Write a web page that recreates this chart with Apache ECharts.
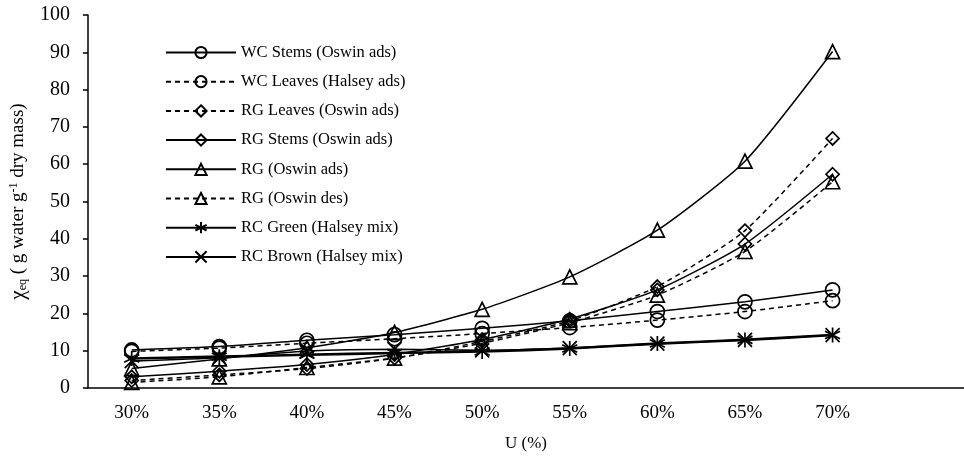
<!DOCTYPE html>
<html>
<head>
<meta charset="utf-8">
<script src="https://cdn.jsdelivr.net/npm/echarts@6/dist/echarts.min.js"></script>
<style>
  html, body { margin: 0; padding: 0; background: #fff; }
  #chart { width: 964px; height: 459px; }
</style>
</head>
<body>
<div id="chart"></div>
<script>
// Relative humidity categories (last slot is an empty band to the right of 70%)
const categories = ['30%', '35%', '40%', '45%', '50%', '55%', '60%', '65%', '70%', ''];
const yTicks = { min: 0, max: 100, interval: 10 };

// Equilibrium moisture content per model
const wcStemsOswinAds   = [10.2, 11.1, 12.8, 14.3, 16.0, 18.0, 20.5, 23.1, 26.3];
const wcLeavesHalseyAds = [9.8, 10.7, 12.0, 13.2, 14.6, 16.2, 18.2, 20.5, 23.4];
const rgLeavesOswinAds  = [2.0, 3.5, 5.2, 8.0, 12.5, 18.0, 27.2, 42.2, 66.9];
const rgStemsOswinAds   = [3.0, 4.5, 6.3, 9.0, 13.0, 18.5, 26.3, 38.6, 57.3];
const rgOswinAds        = [5.2, 7.8, 10.8, 14.9, 21.1, 29.8, 42.3, 60.8, 90.2];
const rgOswinDes        = [1.5, 3.0, 5.5, 8.0, 12.0, 17.5, 24.9, 36.6, 55.3];
const rcGreenHalseyMix  = [7.9, 8.4, 8.9, 9.4, 9.8, 10.6, 11.9, 12.9, 14.2];
const rcBrownHalseyMix  = [7.2, 8.1, 9.9, 10.4, 10.1, 10.7, 11.9, 12.9, 14.2];

const seriesNames = [
  'WC Stems (Oswin ads)', 'WC Leaves (Halsey ads)', 'RG Leaves (Oswin ads)', 'RG Stems (Oswin ads)',
  'RG (Oswin ads)', 'RG (Oswin des)', 'RC Green (Halsey mix)', 'RC Brown (Halsey mix)'
];

const FONT = 'Liberation Serif';
const INK = '#000';

const asterisk = 'path://M5,0L5,10M0.7,2.5L9.3,7.5M0.7,7.5L9.3,2.5';
const cross = 'path://M0,0L10,10M10,0L0,10';

function lineSeries(name, data, symbol, dashed, width, size) {
  return {
    name: name,
    type: 'line',
    data: data,
    smooth: 0.2,
    symbol: symbol,
    symbolSize: size || 14,
    showAllSymbol: true,
    lineStyle: { color: INK, width: width || 1.5, type: dashed ? [5, 4] : 'solid' },
    itemStyle: { color: 'rgba(255,255,255,0)', borderColor: INK, borderWidth: 1.7 },
    emphasis: { disabled: true },
    animation: false
  };
}

const chart = echarts.init(document.getElementById('chart'), null, { renderer: 'canvas' });
chart.setOption({
  backgroundColor: '#fff',
  animation: false,
  textStyle: { fontFamily: FONT, color: INK },
  grid: { left: 87, right: -10, top: 15, bottom: 71, containLabel: false },
  legend: {
    orient: 'vertical',
    left: 160,
    top: 39,
    itemWidth: 70,
    itemHeight: 14,
    itemGap: 12.2,
    data: seriesNames,
    textStyle: { fontFamily: FONT, fontSize: 16.5, color: INK },
    selectedMode: false
  },
  xAxis: {
    type: 'category',
    data: categories,
    boundaryGap: true,
    name: 'U (%)',
    nameLocation: 'middle',
    nameGap: 47,
    nameTextStyle: { fontFamily: FONT, fontSize: 17, color: INK },
    axisLine: { lineStyle: { color: INK, width: 1.5 } },
    axisTick: { show: false },
    axisLabel: { fontFamily: FONT, fontSize: 19, color: INK, margin: 16, interval: 0 },
    splitLine: { show: false }
  },
  yAxis: {
    type: 'value',
    min: yTicks.min,
    max: yTicks.max,
    interval: yTicks.interval,
    name: '{chi|χ}{sub|eq}{n| ( g water g}{sup|-1}{n| dry mass)}',
    nameLocation: 'middle',
    nameGap: 57,
    nameRotate: 90,
    nameTextStyle: {
      fontFamily: FONT, fontSize: 19, color: INK,
      rich: {
        chi: { fontFamily: FONT, fontSize: 21, color: INK },
        n: { fontFamily: FONT, fontSize: 19, color: INK },
        sub: { fontFamily: FONT, fontSize: 12, color: INK, verticalAlign: 'bottom', padding: [7, 0, 0, 0] },
        sup: { fontFamily: FONT, fontSize: 12, color: INK, verticalAlign: 'top', padding: [0, 0, 7, 0] }
      }
    },
    axisLine: { show: true, lineStyle: { color: INK, width: 1.5 } },
    axisTick: { show: true, length: 5, inside: false, lineStyle: { color: INK, width: 1.5 } },
    axisLabel: { fontFamily: FONT, fontSize: 20, color: INK, margin: 18 },
    splitLine: { show: false }
  },
  series: [
    lineSeries(seriesNames[0], wcStemsOswinAds, 'circle', false),
    lineSeries(seriesNames[1], wcLeavesHalseyAds, 'circle', true),
    lineSeries(seriesNames[2], rgLeavesOswinAds, 'diamond', true, 1.5, 13),
    lineSeries(seriesNames[3], rgStemsOswinAds, 'diamond', false, 1.5, 13),
    lineSeries(seriesNames[4], rgOswinAds, 'triangle', false),
    lineSeries(seriesNames[5], rgOswinDes, 'triangle', true),
    lineSeries(seriesNames[6], rcGreenHalseyMix, asterisk, false, 2.6, 15),
    lineSeries(seriesNames[7], rcBrownHalseyMix, cross, false, 1.6, 14)
  ]
});
</script>
</body>
</html>
